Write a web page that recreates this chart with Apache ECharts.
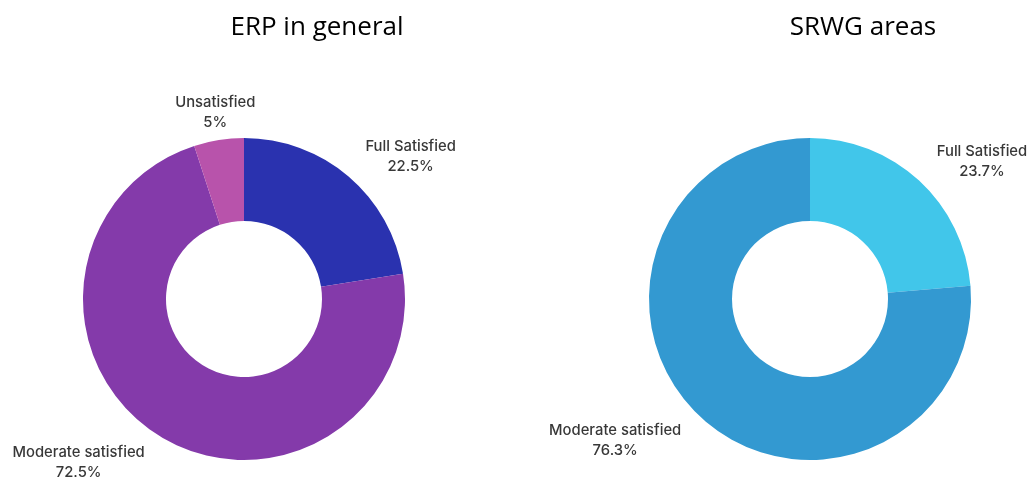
<!DOCTYPE html>
<html>
<head>
<meta charset="utf-8">
<script src="https://cdn.jsdelivr.net/npm/echarts@6/dist/echarts.min.js"></script>
<style>
html,body{margin:0;padding:0;background:#fff;}
#chart{width:1031px;height:478px;}
</style>
</head>
<body>
<div id="chart"></div>
<script>
// Data
const titles = ['ERP in general', 'SRWG areas'];
const erpCategories = ['Full Satisfied', 'Moderate satisfied', 'Unsatisfied'];
const erpValues = [22.5, 72.5, 5];
const erpColors = ['#2A32AF', '#843AAA', '#B853AB'];
const srwgCategories = ['Full Satisfied', 'Moderate satisfied'];
const srwgValues = [23.7, 76.3];
const srwgColors = ['#41C6EA', '#3399D1'];

const chart = echarts.init(document.getElementById('chart'));

function buildData(cats, vals, colors) {
  return cats.map((c, i) => ({ name: c, value: vals[i], itemStyle: { color: colors[i] } }));
}

const labelStyle = {
  show: true,
  position: 'outside',
  formatter: '{b}\n{c}%',
  fontFamily: 'Inter',
  fontWeight: 500,
  fontSize: 14.8,
  lineHeight: 20,
  color: '#383838'
};

function layoutFn(p) {
  const r = p.labelRect;
  if (p.seriesIndex === 0 && p.dataIndex === 2) {
    return { x: r.x + r.width + 6, align: 'center', dy: 1 };
  }
  if (p.align === 'right') {
    return { x: r.x + r.width / 2 + 5, align: 'center', dy: 2 };
  }
  return { x: r.x + r.width / 2 - 7, align: 'center', dy: 2 };
}

const commonSeries = {
  type: 'pie',
  radius: [78, 161],
  startAngle: 90,
  clockwise: true,
  avoidLabelOverlap: false,
  labelLine: { show: false, length: 29, length2: 0 },
  emphasis: { disabled: true },
  silent: true,
  label: labelStyle,
  labelLayout: layoutFn
};

chart.setOption({
  animation: false,
  title: [
    { text: titles[0], left: 312, top: 10, textAlign: 'center',
      textStyle: { fontFamily: 'Open Sans', fontWeight: 'normal', fontSize: 26, color: '#000' } },
    { text: titles[1], left: 858, top: 10, textAlign: 'center',
      textStyle: { fontFamily: 'Open Sans', fontWeight: 'normal', fontSize: 26, color: '#000' } }
  ],
  series: [
    Object.assign({}, commonSeries, {
      center: [244, 299],
      data: buildData(erpCategories, erpValues, erpColors)
    }),
    Object.assign({}, commonSeries, {
      center: [810, 299],
      data: buildData(srwgCategories, srwgValues, srwgColors)
    })
  ]
});
</script>
</body>
</html>
